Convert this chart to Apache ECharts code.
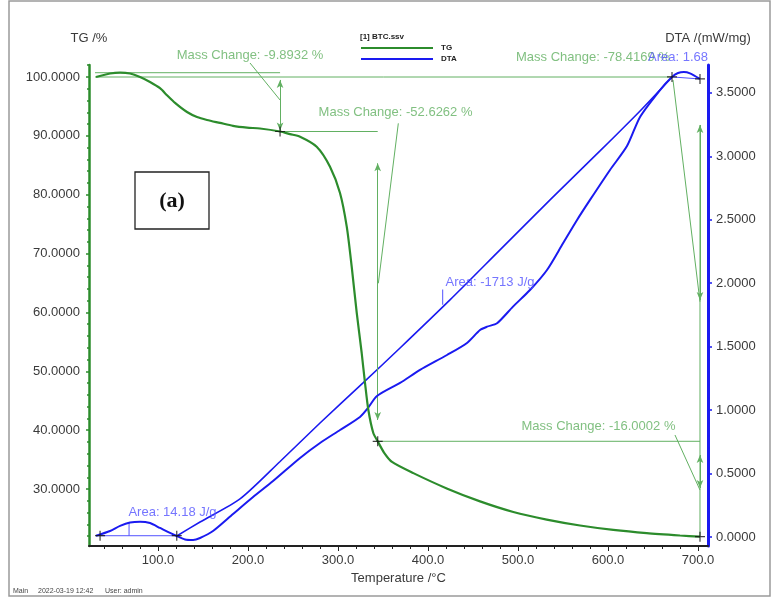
<!DOCTYPE html>
<html>
<head>
<meta charset="utf-8">
<script src="https://cdn.jsdelivr.net/npm/echarts@6/dist/echarts.min.js"></script>
<style>
  html, body { margin: 0; padding: 0; background: #fff; }
  #chart { width: 775px; height: 598px; }
</style>
</head>
<body>
<div id="chart"></div>
<script>
// ---- Thermogravimetric (TG) curve: temperature (°C) vs mass (%) ----
const tgTemp = [31.1, 46.7, 57.8, 68.9, 80.0, 91.1, 102.2, 110.0, 118.9, 132.2, 143.3, 154.4, 168.9, 183.3, 198.9, 213.3,
  235.6, 246.7, 257.8, 276.3, 291.1, 302.2, 309.7, 315.2, 320.8, 326.3, 330.0, 333.7, 339.2, 344.1, 351.1, 360.0,
  383.7, 420.8, 457.8, 494.8, 531.9, 568.9, 605.9, 643.0, 680.0, 702.2];
const tgMass = [100.0, 100.6, 100.76, 100.6, 100.0, 99.15, 98.1, 96.9, 95.6, 94.05, 93.2, 92.7, 92.2, 91.7, 91.4, 91.25,
  90.74, 90.3, 89.86, 88.16, 84.76, 80.29, 74.57, 67.77, 59.91, 53.11, 48.01, 43.43, 39.52, 38.11, 36.2, 34.6,
  32.7, 30.1, 27.9, 26.1, 24.8, 23.8, 23.05, 22.5, 22.1, 21.9];

// ---- DTA signal (mW/mg) ----
const dtaTemp = [31.1, 46.7, 57.8, 68.9, 80.0, 91.1, 102.2, 113.3, 120.8, 130.0, 138.9, 146.7, 161.1, 183.3, 205.6, 227.8,
  257.8, 280.0, 302.2, 324.4, 333.3, 343.3, 368.9, 391.1, 421.1, 443.3, 457.8, 465.6, 476.7, 494.4, 513.3, 532.2,
  550.0, 565.6, 580.0, 602.2, 621.1, 635.6, 657.8, 671.1, 677.8, 684.4, 691.1, 702.2];
const dtaSignal = [0.01, 0.047, 0.087, 0.114, 0.121, 0.110, 0.071, 0.032, 0.008, -0.020, -0.024, -0.008, 0.047, 0.181, 0.315, 0.441,
  0.623, 0.741, 0.843, 0.946, 1.017, 1.111, 1.214, 1.316, 1.434, 1.529, 1.631, 1.657, 1.684, 1.815, 1.946, 2.104,
  2.314, 2.498, 2.656, 2.892, 3.08, 3.31, 3.522, 3.625, 3.656, 3.664, 3.653, 3.609];

// ---- Integration baseline under the large exothermic peak ----
const baseTemp = [120.8, 146.7, 191.1, 235.6, 280.0, 327.8, 368.9, 424.4, 480.0, 535.6, 591.1, 635.6, 671.1];
const baseSignal = [0.008, 0.118, 0.30, 0.595, 0.898, 1.214, 1.489, 1.868, 2.262, 2.656, 3.042, 3.357, 3.625];

// ---- Axis ranges and tick labels ----
const X_MIN = 23.3, X_MAX = 711.1;
const TG_MIN = 20.32, TG_MAX = 102.04;
const DTA_MIN = -0.071, DTA_MAX = 3.719;
const tempLabels = [100, 200, 300, 400, 500, 600, 700];
const massLabels = [30, 40, 50, 60, 70, 80, 90, 100];
const dtaLabels = [0, 0.5, 1.0, 1.5, 2.0, 2.5, 3.0, 3.5];

function steps(from, to, step) {
  const out = [];
  for (let v = from; v <= to + 1e-9; v += step) out.push(Math.round(v * 1000) / 1000);
  return out;
}
const tempMinor = steps(40, 700, 20);
const massMinor = steps(22, 102, 2);
const dtaMinor = steps(0, 3.7, 0.1);

// ---- Mass-change evaluation (TG axis) ----
const massGuides = [
  [[30, 100.73], [235.6, 100.73]],
  [[30, 100.0], [671.1, 100.0]],
  [[235.6, 90.74], [344.1, 90.74]],
  [[344.1, 38.11], [702.2, 38.11]],
  [[702.2, 91.85], [702.2, 21.9]],
  [[202.2, 102.38], [235.6, 96.09]],
  [[367.0, 92.13], [344.8, 64.95]],
  [[672.2, 99.49], [702.2, 61.82]],
  [[674.4, 39.18], [702.2, 29.83]]
];
const massArrows = [
  [[235.6, 99.5], [235.6, 90.9]],
  [[344.1, 85.34], [344.1, 41.73]],
  [[702.2, 91.85], [702.2, 62.1]],
  [[702.2, 35.78], [702.2, 30.17]]
];
const massTexts = [
  { name: 'Mass Change: -9.8932 %', value: [202.2, 103.74] },
  { name: 'Mass Change: -52.6262 %', value: [363.9, 94.05] },
  { name: 'Mass Change: -78.4169 %', value: [583.3, 103.40] },
  { name: 'Mass Change: -16.0002 %', value: [589.4, 40.71] }
];
const massPoints = [[235.6, 90.74], [344.1, 38.11], [702.2, 21.9]];

// ---- Peak-area evaluation (DTA axis) ----
const areaGuides = [
  [[31.1, 0.01], [120.8, 0.01]],
  [[67.8, 0.01], [67.8, 0.117]],
  [[416.3, 1.83], [416.3, 1.95]],
  [[671.1, 3.625], [702.2, 3.609]]
];
const areaTexts = [
  { name: 'Area: 14.18 J/g', value: [116.1, 0.197] },
  { name: 'Area: -1713 J/g', value: [468.9, 2.009] },
  { name: 'Area: 1.68', value: [677.8, 3.782] }
];
const areaPoints = [[35.6, 0.01], [120.8, 0.01], [671.1, 3.625], [702.2, 3.609]];

// ---- Styling ----
const FONT = '"Liberation Sans", Arial, sans-serif';
const INK = '#3a3a3a';
const GREEN = '#2c8c2c';
const GREEN_NOTE = '#62b062';
const BLUE = '#1a1af0';
const BLUE_NOTE = '#5252ff';
const CROSS = 'path://M4.4,0h1.2v10h-1.2zM0,4.4h10v1.2h-10z';

const zip = (xs, ys) => xs.map((x, i) => [x, ys[i]]);

function guideSeries(segments, yAxisIndex, color) {
  return segments.map(seg => ({
    type: 'line', data: seg, xAxisIndex: 0, yAxisIndex,
    showSymbol: false, clip: false, silent: true,
    lineStyle: { color, width: 1 }, z: 3
  }));
}
function textSeries(items, yAxisIndex, color) {
  return {
    type: 'scatter', data: items, xAxisIndex: 0, yAxisIndex,
    symbolSize: 1, clip: false, silent: true,
    itemStyle: { color: 'transparent' },
    label: { show: true, position: 'inside', formatter: '{b}', color, fontSize: 13, fontFamily: FONT },
    z: 6
  };
}
function crossSeries(points, yAxisIndex) {
  return {
    type: 'scatter', data: points, xAxisIndex: 0, yAxisIndex,
    symbol: CROSS, symbolSize: 10, clip: false, silent: true,
    itemStyle: { color: '#111' }, z: 7
  };
}

const chart = echarts.init(document.getElementById('chart'), null, { renderer: 'canvas' });

chart.setOption({
  animation: false,
  backgroundColor: '#fff',
  textStyle: { fontFamily: FONT },
  grid: { left: 89, right: 67, top: 65, bottom: 52, containLabel: false, outerBoundsMode: 'none' },
  legend: {
    data: ['TG', 'DTA'], orient: 'vertical', left: 361, top: 43, padding: 0,
    itemWidth: 72, itemHeight: 2, itemGap: 1, icon: 'rect', selectedMode: false,
    textStyle: { fontSize: 8, fontWeight: 'bold', color: '#222', lineHeight: 10, padding: [0, 0, 0, 3] }
  },
  xAxis: [
    {
      type: 'value', min: X_MIN, max: X_MAX, position: 'bottom',
      name: 'Temperature /°C', nameLocation: 'middle', nameGap: 26,
      nameTextStyle: { color: INK, fontSize: 13 },
      axisLine: { onZero: false, lineStyle: { color: '#222', width: 2 } },
      axisTick: { customValues: tempLabels, length: 5, lineStyle: { color: '#222', width: 1 } },
      axisLabel: { customValues: tempLabels, formatter: v => v.toFixed(1), color: INK, fontSize: 13, margin: 8 },
      splitLine: { show: false }
    },
    {
      type: 'value', min: X_MIN, max: X_MAX, position: 'bottom',
      axisLine: { show: false, onZero: false },
      axisTick: { customValues: tempMinor, length: 3, lineStyle: { color: '#222', width: 1 } },
      axisLabel: { show: false }, splitLine: { show: false }
    }
  ],
  yAxis: [
    {
      type: 'value', min: TG_MIN, max: TG_MAX, position: 'left',
      name: 'TG /%', nameLocation: 'end', nameGap: 20,
      nameTextStyle: { color: INK, fontSize: 13 },
      axisLine: { show: true, onZero: false, lineStyle: { color: GREEN, width: 2.5 } },
      axisTick: { show: true, customValues: massLabels, length: 3, lineStyle: { color: GREEN, width: 1.5 } },
      axisLabel: { customValues: massLabels, formatter: v => v.toFixed(4), color: INK, fontSize: 13, margin: 9 },
      splitLine: { show: false }
    },
    {
      type: 'value', min: TG_MIN, max: TG_MAX, position: 'left',
      axisLine: { show: false, onZero: false },
      axisTick: { show: true, customValues: massMinor, length: 2, lineStyle: { color: GREEN, width: 1.5 } },
      axisLabel: { show: false }, splitLine: { show: false }
    },
    {
      type: 'value', min: DTA_MIN, max: DTA_MAX, position: 'right',
      name: 'DTA /(mW/mg)', nameLocation: 'end', nameGap: 20,
      nameTextStyle: { color: INK, fontSize: 13 },
      axisLine: { show: true, onZero: false, lineStyle: { color: BLUE, width: 3 } },
      axisTick: { show: true, customValues: dtaLabels, length: 4, lineStyle: { color: BLUE, width: 1.5 } },
      axisLabel: { customValues: dtaLabels, formatter: v => v.toFixed(4), color: INK, fontSize: 13, margin: 8 },
      splitLine: { show: false }
    },
    {
      type: 'value', min: DTA_MIN, max: DTA_MAX, position: 'right',
      axisLine: { show: false, onZero: false },
      axisTick: { show: true, customValues: dtaMinor, length: 2, lineStyle: { color: BLUE, width: 1.5 } },
      axisLabel: { show: false }, splitLine: { show: false }
    }
  ],
  series: [
    ...guideSeries(massGuides, 0, GREEN_NOTE),
    ...guideSeries(areaGuides, 2, BLUE_NOTE),
    {
      name: 'DTA baseline', type: 'line', data: zip(baseTemp, baseSignal), xAxisIndex: 0, yAxisIndex: 2,
      showSymbol: false, smooth: 0.25, silent: true,
      lineStyle: { color: BLUE, width: 1.6 }, z: 4
    },
    {
      name: 'DTA', type: 'line', data: zip(dtaTemp, dtaSignal), xAxisIndex: 0, yAxisIndex: 2,
      showSymbol: false, smooth: 0.25, silent: true,
      color: BLUE, lineStyle: { color: BLUE, width: 2 }, z: 5
    },
    {
      name: 'TG', type: 'line', data: zip(tgTemp, tgMass), xAxisIndex: 0, yAxisIndex: 0,
      showSymbol: false, smooth: 0.25, silent: true,
      color: GREEN, lineStyle: { color: GREEN, width: 2.2 }, z: 5,
      markLine: {
        silent: true, animation: false,
        symbol: ['arrow', 'arrow'], symbolSize: [5, 8],
        label: { show: false },
        lineStyle: { color: GREEN_NOTE, width: 1, type: 'solid' },
        emphasis: { disabled: true },
        data: massArrows.map(([a, b]) => [{ coord: a }, { coord: b }])
      }
    },
    crossSeries(massPoints, 0),
    crossSeries(areaPoints, 2),
    textSeries(massTexts, 0, GREEN_NOTE),
    textSeries(areaTexts, 2, BLUE_NOTE)
  ],
  graphic: [
    { type: 'rect', shape: { x: 9, y: 1, width: 761, height: 595 }, style: { fill: 'none', stroke: '#9a9a9a', lineWidth: 1.5 }, silent: true, z: 0 },
    { type: 'text', x: 360, y: 37, style: { text: '[1] BTC.ssv', font: 'bold 8px ' + FONT, fill: '#222', textVerticalAlign: 'middle' }, silent: true },
    { type: 'rect', shape: { x: 135, y: 172, width: 74, height: 57 }, style: { fill: '#fff', stroke: '#222', lineWidth: 1.3 }, silent: true, z: 10 },
    { type: 'text', x: 172, y: 201, style: { text: '(a)', font: 'bold 22px "Liberation Serif", "Times New Roman", serif', fill: '#111', textAlign: 'center', textVerticalAlign: 'middle' }, silent: true, z: 11 },
    { type: 'text', x: 13, y: 591, style: { text: 'Main', font: '7px ' + FONT, fill: '#444', textVerticalAlign: 'middle' }, silent: true },
    { type: 'text', x: 38, y: 591, style: { text: '2022-03-19 12:42', font: '7px ' + FONT, fill: '#444', textVerticalAlign: 'middle' }, silent: true },
    { type: 'text', x: 105, y: 591, style: { text: 'User: admin', font: '7px ' + FONT, fill: '#444', textVerticalAlign: 'middle' }, silent: true }
  ]
});
</script>
</body>
</html>
